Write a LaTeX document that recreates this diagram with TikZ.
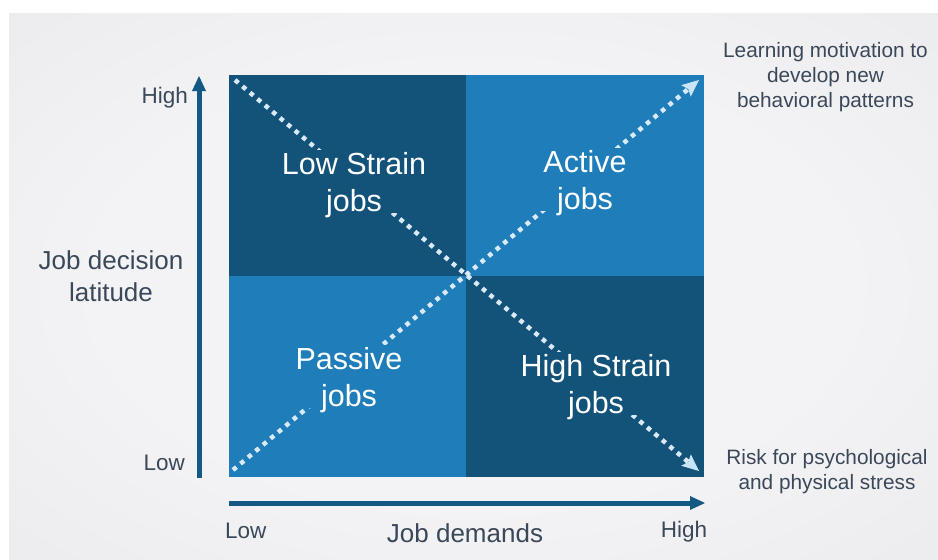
\documentclass[tikz,border=0pt]{standalone}
\usepackage{fontspec}
\setmainfont{Liberation Sans}
\usetikzlibrary{arrows.meta}
\definecolor{darkq}{RGB}{19,83,122}
\definecolor{lightq}{RGB}{31,125,185}
\definecolor{axisc}{RGB}{20,88,132}
\definecolor{txt}{RGB}{58,72,90}
\definecolor{dotc}{RGB}{216,234,247}
\definecolor{tipc}{RGB}{200,229,248}
\definecolor{bgl}{RGB}{243,243,245}
\definecolor{bgd}{RGB}{230,230,233}
\pgfdeclareradialshading{bgrad}{\pgfpoint{0bp}{0bp}}{color(0bp)=(bgl); color(20bp)=(bgl); color(50bp)=(bgd)}
\begin{document}
\begin{tikzpicture}[x=1pt,y=-1pt,
  quad/.style={draw=none, inner sep=0pt, outer sep=0pt, minimum width=#1},
  dotl/.style={draw=dotc, line width=4.5pt, dash pattern=on 4.5pt off 5.3pt,
    -{Stealth[length=17pt,width=15pt,inset=3pt,line width=0pt,color=tipc,fill=tipc]}},
  axisarrow/.style={draw=axisc, line width=5pt,
    -{Triangle[length=15pt,width=14pt,line width=0pt]}},
  qtext/.style={text=white, font=\fontsize{30.5}{37}\selectfont, align=center,
    inner xsep=4pt, inner ysep=2pt, text depth=0pt, anchor=north},
  lbl/.style={text=txt, inner sep=0pt},
  axlbl/.style={lbl, font=\fontsize{26}{32}\selectfont, align=center},
  hl/.style={lbl, font=\fontsize{22.5}{27}\selectfont},
  note/.style={lbl, font=\fontsize{20.8}{25}\selectfont, align=center, anchor=north}
]
\useasboundingbox (0,0) rectangle (938,560);
\fill[white] (0,0) rectangle (938,560);
\shade[shading=bgrad] (9,13) rectangle (938,560);

% quadrants
\node[quad=237pt, minimum height=201pt, fill=darkq] (ul) at (347.5,175.5) {};
\node[quad=238pt, minimum height=201pt, fill=lightq] (ur) at (585,175.5) {};
\node[quad=237pt, minimum height=201pt, fill=lightq] (ll) at (347.5,376.5) {};
\node[quad=238pt, minimum height=201pt, fill=darkq] (lr) at (585,376.5) {};

% dotted diagonals
\coordinate (d1s) at (235,80);
\coordinate (d1e) at (699,471);
\coordinate (d2s) at (233,470);
\coordinate (d2e) at (699,80);
\draw[dotl] (d1s) -- (d1e);
\draw[dotl] (d2s) -- (d2e);

% quadrant labels
\node[qtext, fill=darkq] (ls) at (354,150) {Low Strain\\jobs};
\node[qtext, fill=lightq] (ac) at (585,148) {Active\\jobs};
\node[qtext, fill=lightq] (pa) at (349,345) {Passive\\jobs};
\node[qtext, fill=darkq] (hs) at (596,352) {High Strain\\jobs};

% axes
\coordinate (ya0) at (199,478);
\coordinate (ya1) at (199,76);
\coordinate (xa0) at (229,503);
\coordinate (xa1) at (705,503);
\draw[axisarrow] (ya0) -- (ya1);
\draw[axisarrow] (xa0) -- (xa1);

% axis labels
\node[hl, anchor=base east] (yhigh) at (188,103) {High};
\node[hl, anchor=base east] (ylow) at (185,470) {Low};
\node[hl, anchor=base west] (xlow) at (225,538) {Low};
\node[hl, anchor=base] (xhigh) at (684,537) {High};
\node[axlbl, anchor=north] (ylab) at (111,250) {Job decision\\latitude};
\node[axlbl, anchor=base] (xlab) at (465,542) {Job demands};

% notes
\node[note] (ntop) at (825.5,42) {Learning motivation to\\develop new\\behavioral patterns};
\node[note] (nbot) at (827,449) {Risk for psychological\\and physical stress};
\end{tikzpicture}
\end{document}
